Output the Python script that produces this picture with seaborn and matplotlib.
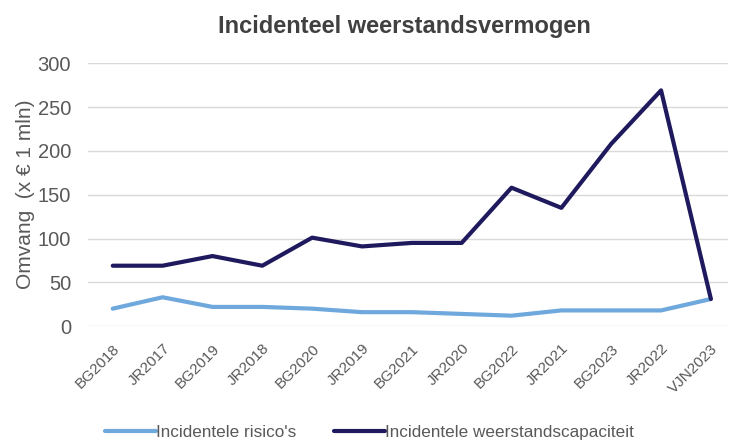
import matplotlib
matplotlib.use("Agg")
import matplotlib.pyplot as plt
import seaborn as sns
import pandas as pd

periodes = ["BG2018", "JR2017", "BG2019", "JR2018", "BG2020", "JR2019", "BG2021",
            "JR2020", "BG2022", "JR2021", "BG2023", "JR2022", "VJN2023"]
risicos = [20, 33, 22, 22, 20, 16, 16, 14, 12, 18, 18, 18, 31]
capaciteit = [69, 69, 80, 69, 101, 91, 95, 95, 158, 135, 208, 269, 31]

naam_risico = "Incidentele risico's"
naam_capaciteit = "Incidentele weerstandscapaciteit"

df = pd.DataFrame({
    "periode": periodes * 2,
    "pos": list(range(len(periodes))) * 2,
    "waarde": risicos + capaciteit,
    "reeks": [naam_risico] * len(periodes) + [naam_capaciteit] * len(periodes),
})

sns.set_style("white")
plt.rcParams["font.family"] = ["Liberation Sans", "DejaVu Sans"]

fig = plt.figure(figsize=(7.32, 4.42), dpi=100)
ax = fig.add_axes([0.12, 0.262, 0.875, 0.595])

sns.lineplot(
    data=df, x="pos", y="waarde", hue="reeks",
    palette={naam_risico: "#6fa8dc", naam_capaciteit: "#1f1a5e"},
    linewidth=3, ax=ax, legend=True,
)

ax.set_ylim(0, 300)
ax.set_xlim(-0.5, 12.35)
ax.set_yticks(range(0, 301, 50))
ax.yaxis.grid(True, color="#d9d9d9", linewidth=1)
ax.set_axisbelow(True)
for s in ax.spines.values():
    s.set_visible(False)

ax.set_xticks(range(len(periodes)))
ax.set_xticklabels(periodes, rotation=45, ha="right", rotation_mode="anchor",
                   fontsize=11, color="#595959")
ax.tick_params(axis="y", labelsize=14.5, colors="#595959", length=0, pad=12)
ax.tick_params(axis="x", length=0, pad=11)
ax.set_xlabel("")
ax.set_ylabel("Omvang  (x € 1 mln)", fontsize=15, color="#595959", labelpad=2)

fig.suptitle("Incidenteel weerstandsvermogen", x=0.552, y=0.967,
             fontsize=17, fontweight="bold", color="#404040")

handles, labels = ax.get_legend_handles_labels()
ax.get_legend().remove()
fig.legend(handles, labels, loc="lower center", bbox_to_anchor=(0.505, -0.03), ncol=2,
           frameon=False, fontsize=12.3, labelcolor="#595959", handlelength=3.0,
           handletextpad=0.0, columnspacing=2.2)

fig.savefig("out.png", dpi=100)
